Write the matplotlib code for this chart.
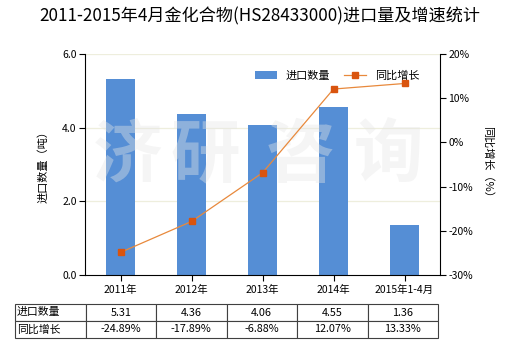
import matplotlib
matplotlib.use("Agg")
import matplotlib.pyplot as plt
import numpy as np

plt.rcParams['font.family'] = ['Noto Sans CJK SC', 'DejaVu Sans']

# chart data
categories = ["2011年", "2012年", "2013年", "2014年", "2015年1-4月"]
volume = [5.31, 4.36, 4.06, 4.55, 1.36]
growth = [-24.89, -17.89, -6.88, 12.07, 13.33]
volume_labels = ["5.31", "4.36", "4.06", "4.55", "1.36"]
growth_labels = ["-24.89%", "-17.89%", "-6.88%", "12.07%", "13.33%"]

BAR = "#558ed5"
LINE = "#e8893c"
MARK = "#d9540f"

fig = plt.figure(figsize=(5.2, 3.5), dpi=100)
ax = fig.add_axes([85 / 520, 75 / 350, 355 / 520, 221 / 350])
x = np.arange(len(categories))

ax.set_xlim(-0.5, len(categories) - 0.5)
ax.set_ylim(0, 6)
ax.set_yticks([0, 2, 4, 6])
ax.set_yticklabels(["0.0", "2.0", "4.0", "6.0"], fontsize=7.5)
for yv in [2, 4, 6]:
    ax.axhline(yv, color="#eeeedd", lw=0.9, zorder=0)

ax.bar(x, volume, width=0.41, color=BAR, zorder=2, label="进口数量")
ax.set_xticks(x)
ax.set_xticklabels(categories, fontsize=7.5)
ax.tick_params(axis="x", length=4, width=0.8, pad=3)
ax.tick_params(axis="y", length=4, width=0.8, pad=2)
for s in ["top", "right"]:
    ax.spines[s].set_visible(False)
ax.set_ylabel("进口数量（吨）", fontsize=8, labelpad=10)

# watermark sits over the bars but under the growth line
for ch, px in zip("济研咨询", [127, 205, 300, 388]):
    ax.text((px - 85) / 355, (275 - 157) / 221, ch, transform=ax.transAxes,
            fontsize=50, fontweight="bold", color="#e6e6e6", alpha=0.4,
            ha="center", va="center", zorder=5)

ax2 = ax.twinx()
ax2.set_ylim(-30, 20)
ax2.set_yticks([-30, -20, -10, 0, 10, 20])
ax2.set_yticklabels(["-30%", "-20%", "-10%", "0%", "10%", "20%"], fontsize=7.5)
ax2.tick_params(axis="y", length=4, width=0.8, pad=2)
for s in ["top", "left", "bottom"]:
    ax2.spines[s].set_visible(False)
ax2.plot(x, growth, color=LINE, lw=0.9, marker="s", markersize=4.5,
         markerfacecolor=MARK, markeredgecolor=MARK, zorder=3, label="同比增长")
ax2.set_ylabel("同比增长（%）", fontsize=8, rotation=270, labelpad=14)

h1, l1 = ax.get_legend_handles_labels()
h2, l2 = ax2.get_legend_handles_labels()
ax2.legend(h1 + h2, l1 + l2, ncol=2, frameon=False, fontsize=8,
           loc="upper center", bbox_to_anchor=(0.71, 0.97),
           handlelength=2.0, columnspacing=1.2)

fig.suptitle("2011-2015年4月金化合物(HS28433000)进口量及增速统计",
             fontsize=12.3, y=0.98)

# data table under the axes
tab = ax.table(cellText=[["进口数量"] + volume_labels, ["同比增长"] + growth_labels],
               cellLoc="center", bbox=[-70 / 355, -63 / 221, 423 / 355, 34 / 221])
tab.auto_set_font_size(False)
tab.set_fontsize(7.8)
for (r, c), cell in tab.get_celld().items():
    cell.set_edgecolor("#404040")
    cell.set_linewidth(0.8)
    if c == 0:
        cell.set_text_props(ha="left")
        cell._loc = "left"
        cell.PAD = 0.03

fig.savefig("out.png", dpi=100)
